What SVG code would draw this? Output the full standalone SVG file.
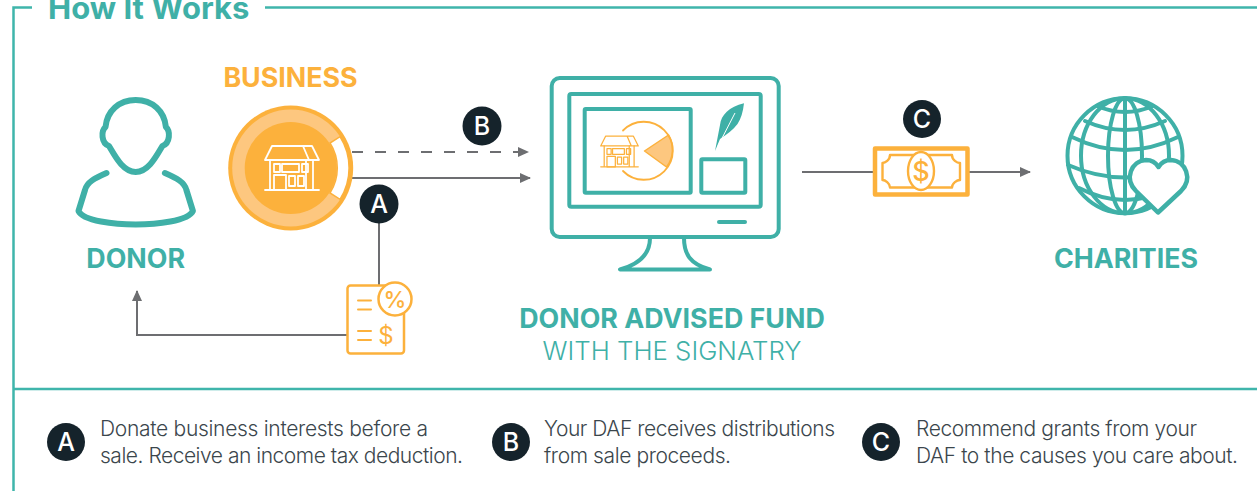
<svg xmlns="http://www.w3.org/2000/svg" width="1257" height="491" viewBox="0 0 1257 491">
<style>
.t{font-family:Inter,"Liberation Sans",sans-serif}
.h{font-weight:700;font-size:26.800px}
.teal{fill:#3fb0a7}.org{fill:#fcb13c}
.ts{fill:none;stroke:#3fb0a7;stroke-linecap:round;stroke-linejoin:round}
.os{fill:none;stroke:#fcb13c;stroke-linecap:round;stroke-linejoin:round}
.ln{fill:none;stroke:#6d6e71;stroke-width:2}
.bd{fill:#15232b}
.bt{fill:#fff;font-size:25px;font-weight:500;text-anchor:middle}
.lg{fill:#3b464c;font-size:21px;font-weight:300}
</style>
<defs>
<marker id="ah" markerWidth="12" markerHeight="12" refX="10" refY="5" orient="auto" markerUnits="userSpaceOnUse"><path d="M0 0L11 5L0 10Z" fill="#6d6e71"/></marker>
<symbol id="store" viewBox="0 0 54 46" overflow="visible">
<g fill="none" stroke-linejoin="round" stroke-linecap="round">
<path d="M0 45H54M5 15V45M48 15V45M41 15V45"/>
<path d="M7 1H47L54 15H0ZM38 1L44 15"/>
<rect x="9" y="19" width="6" height="8"/><rect x="17" y="19" width="17" height="8"/><rect x="37" y="19" width="6" height="8"/>
<rect x="9" y="30" width="12" height="15"/><rect x="24" y="31" width="6" height="10"/><rect x="33" y="31" width="6" height="10"/>
</g></symbol>
</defs>
<g id="frame" fill="none" stroke="#3fb5ab" stroke-width="2.500">
<path d="M32 7.500H13.500V491"/><path d="M265 7.500H1257"/><path d="M13 389H1257"/>
</g>
<text class="t teal" x="48" y="19" font-size="31" font-weight="700">How It Works</text>

<g id="connectors">
<path class="ln" d="M352 152H528" stroke-dasharray="11 12" marker-end="url(#ah)"/>
<path class="ln" d="M352 178H530" marker-end="url(#ah)"/>
<path class="ln" d="M379 220V285"/>
<path class="ln" d="M347 335H137V291" marker-end="url(#ah)"/>
<path class="ln" d="M802 172H874"/>
<path class="ln" d="M969 172H1030" marker-end="url(#ah)"/>
</g>

<g id="donor">
<path class="ts" stroke-width="6" d="M135.700 100C119 100 107 111 105.500 127C101 131 101 143 109 146C115 156 123 172 135.700 172C148.400 172 156.400 156 162.400 146C170.400 143 170.400 131 165.900 127C164.400 111 152.400 100 135.700 100Z"/>
<path class="ts" stroke-width="6" d="M106.500 173C95 178 87 182 85 190L78.500 211C83 221 115 224.500 135.700 224.500C156.400 224.500 188.400 221 192.900 211L186.400 190C184.400 182 176.400 178 164.900 173"/>
<text class="t teal h" x="135.700" y="268" text-anchor="middle">DONOR</text>
</g>

<g id="business">
<text class="t org h" x="290.500" y="87" text-anchor="middle">BUSINESS</text>
<circle cx="290.700" cy="168" r="62.500" fill="#fcb13c"/>
<circle cx="290.700" cy="168" r="58.500" fill="#fdc77f"/>
<circle cx="290.700" cy="168" r="46" fill="#fcb13c"/>
<path d="M340 136.700A58.500 58.500 0 0 1 340 199.300L330 193A46.500 46.500 0 0 0 330 143Z" fill="#fff" stroke="#fcb13c" stroke-width="1.500"/>
<use href="#store" x="265" y="145" width="54" height="46" stroke="#fff" stroke-width="1.800"/>
</g>

<g id="fund">
<rect class="ts" x="551.700" y="78" width="227" height="159" rx="8" stroke-width="4"/>
<rect class="ts" x="569.300" y="94" width="191.400" height="112.700" rx="2" stroke-width="4"/>
<rect class="ts" x="584.700" y="109" width="106" height="83.700" rx="1" stroke-width="4"/>
<rect class="ts" x="701.300" y="159.300" width="44" height="33.400" rx="1" stroke-width="4"/>
<path class="ts" stroke-width="4" d="M719 222H745"/>
<path class="ts" stroke-width="4" d="M650 238C650 254 640 264 620 269.500H710C690 264 684 254 684 238"/>
<path d="M644.500 151L668.500 135A28 28 0 0 1 666.500 167Z" fill="#fdc77f" stroke="#fcb13c" stroke-width="1.500" stroke-linejoin="round"/>
<path class="os" stroke-width="1.800" d="M623 130.500A29 29 0 1 1 623 171"/>
<use href="#store" x="600.500" y="135.500" width="38" height="32" stroke="#fcb13c" stroke-width="1.800"/>
<path d="M715 151L720 125C721 115 729 107 744 103.300C743 112 741 119 737.500 124C733 130 727 134 720 139Z" fill="#3fb0a7"/>
<path d="M718 146L735 113" stroke="#fff" stroke-width="1" fill="none"/>
<text class="t teal" x="672" y="328" text-anchor="middle" font-size="26.800" font-weight="700">DONOR ADVISED FUND</text>
<text class="t teal" x="672" y="360" text-anchor="middle" font-size="25.800" font-weight="300">WITH THE SIGNATRY</text>
</g>

<g id="money">
<rect x="875" y="148.500" width="92.500" height="46" class="os" stroke-width="4.500"/>
<path class="os" stroke-width="2.400" d="M890 155H952C952 160 957 163 960 163V180C957 180 952 183 952 187.500H890C890 183 885 180 882.500 180V163C885 163 890 160 890 155Z"/>
<ellipse cx="921" cy="171" rx="13" ry="19" fill="#fff" stroke="#fcb13c" stroke-width="2.400"/>
<text class="t org" x="921" y="180.500" font-size="27" text-anchor="middle" font-weight="500">$</text>
</g>

<g id="charities">
<g class="ts" stroke-width="4">
<circle cx="1125" cy="155.700" r="57.500"/>
<ellipse cx="1125" cy="155.700" rx="17" ry="57.500"/>
<ellipse cx="1125" cy="155.700" rx="44" ry="57.500"/>
<path d="M1125 98V213"/>
<path d="M1097 106Q1125 118 1153 106M1085 121Q1125 139 1165 121M1072 137Q1125 163 1178 137M1068 165Q1125 190 1182 165M1079 188Q1125 212 1171 188"/>
</g>
<path d="M1158 212.500L1136 191C1124 179 1131 161 1146 160C1152 160 1156 163 1158.500 167C1161 163 1165 160 1171 160C1186 161 1193 179 1181 191Z" fill="#fff" stroke="#3fb0a7" stroke-width="4.500" stroke-linejoin="round"/>
<text class="t teal h" x="1126" y="267.500" text-anchor="middle">CHARITIES</text>
</g>

<g id="tax">
<rect x="347.500" y="285.500" width="56.500" height="68" rx="3" fill="#fff" stroke="#fcb13c" stroke-width="2.500"/>
<circle cx="395" cy="299" r="16.500" fill="#fff" stroke="#fcb13c" stroke-width="2.500"/>
<text class="t org" x="395" y="307.500" font-size="23" font-weight="500" text-anchor="middle">%</text>
<path class="os" stroke-width="2" d="M358 300.500H371M358 309.500H371M358 331H371M358 340H371"/>
<text class="t org" x="386" y="344" font-size="24" font-weight="400" text-anchor="middle">$</text>
</g>

<g id="badge-a"><circle class="bd" cx="379" cy="204" r="19.500"/><text class="t bt" x="379" y="213">A</text></g>
<g id="badge-b"><circle class="bd" cx="482" cy="126" r="19.500"/><text class="t bt" x="482" y="135">B</text></g>
<g id="badge-c"><circle class="bd" cx="922" cy="119" r="19"/><text class="t bt" x="922" y="128">C</text></g>

<g id="legend">
<circle class="bd" cx="66" cy="442" r="19"/><text class="t bt" x="66" y="451">A</text>
<text class="t lg" x="100" y="436" textLength="328">Donate business interests before a</text>
<text class="t lg" x="100" y="463" textLength="363">sale. Receive an income tax deduction.</text>
<circle class="bd" cx="511" cy="442" r="19"/><text class="t bt" x="511" y="451">B</text>
<text class="t lg" x="544" y="436" textLength="291">Your DAF receives distributions</text>
<text class="t lg" x="544" y="463" textLength="187">from sale proceeds.</text>
<circle class="bd" cx="881" cy="442" r="19"/><text class="t bt" x="881" y="451">C</text>
<text class="t lg" x="916" y="436" textLength="281">Recommend grants from your</text>
<text class="t lg" x="916" y="463" textLength="322">DAF to the causes you care about.</text>
</g>
</svg>
